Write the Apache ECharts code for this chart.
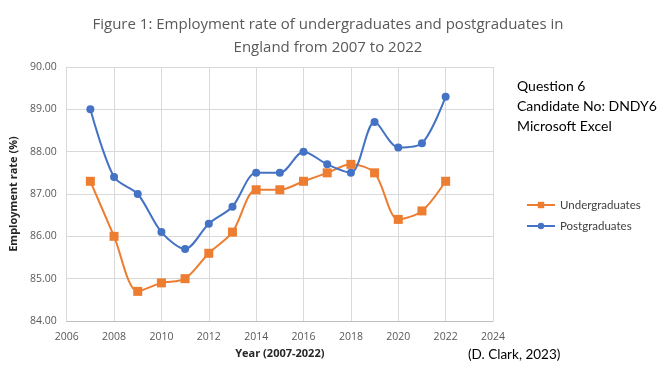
<!DOCTYPE html>
<html><head><meta charset="utf-8">
<script src="https://cdn.jsdelivr.net/npm/echarts@6/dist/echarts.min.js"></script>
<style>html,body{margin:0;padding:0;background:#fff}#c{width:659px;height:369px}</style>
</head><body><div id="c"></div>
<script>
const years = [2007,2008,2009,2010,2011,2012,2013,2014,2015,2016,2017,2018,2019,2020,2021,2022];
const undergraduates = [87.3,86.0,84.7,84.9,85.0,85.6,86.1,87.1,87.1,87.3,87.5,87.7,87.5,86.4,86.6,87.3];
const postgraduates = [89.0,87.4,87.0,86.1,85.7,86.3,86.7,87.5,87.5,88.0,87.7,87.5,88.7,88.1,88.2,89.3];
const titleText = 'Figure 1: Employment rate of undergraduates and postgraduates in\nEngland from 2007 to 2022';
const font = '"Open Sans", Lato, sans-serif';
const font2 = 'Lato, "Open Sans", sans-serif';
const chart = echarts.init(document.getElementById('c'));
chart.setOption({
  animation:false,
  title:{text:titleText,left:323,top:8,textAlign:'center',
    textStyle:{fontFamily:font,fontSize:15,fontWeight:'normal',color:'#595959',lineHeight:23}},
  grid:{left:66,right:166,top:67,bottom:48},
  legend:{orient:'vertical',left:521,top:194,itemGap:9,itemWidth:28,itemHeight:8,
    textStyle:{fontFamily:font2,fontSize:11.5,color:'#404040'},
    data:['Undergraduates','Postgraduates']},
  xAxis:{type:'value',min:2006,max:2024,interval:2,name:'Year (2007-2022)',nameLocation:'middle',nameGap:27,
    nameTextStyle:{fontFamily:font,fontSize:11,fontWeight:'bold',color:'#262626'},
    axisLine:{lineStyle:{color:'#bfbfbf'}},axisTick:{show:false},
    axisLabel:{fontFamily:font,fontSize:10.5,color:'#595959',margin:11,formatter:v=>String(v)},
    splitLine:{lineStyle:{color:'#d9d9d9'}}},
  yAxis:{type:'value',min:84,max:90,interval:1,name:'Employment rate (%)',nameLocation:'middle',nameGap:41,
    nameTextStyle:{fontFamily:font,fontSize:11,fontWeight:'bold',color:'#262626'},
    axisLine:{show:true,lineStyle:{color:'#d9d9d9'}},axisTick:{show:false},
    axisLabel:{fontFamily:font,fontSize:10.5,color:'#595959',formatter:v=>v.toFixed(2),margin:10},
    splitLine:{lineStyle:{color:'#d9d9d9'}}},
  graphic:[
    {type:'text',left:517,top:76,style:{text:'Question 6\nCandidate No: DNDY6\nMicrosoft Excel',fontFamily:font2,fontSize:14,lineHeight:20,fill:'#000'}},
    {type:'text',left:468,top:348,style:{text:'(D. Clark, 2023)',fontFamily:font2,fontSize:13.5,fill:'#000'}}
  ],
  series:[
    {name:'Undergraduates',type:'line',smooth:0.3,symbol:'rect',symbolSize:9,
      itemStyle:{color:'#ED7D31'},lineStyle:{width:2,color:'#ED7D31'},
      data:years.map((y,i)=>[y,undergraduates[i]])},
    {name:'Postgraduates',type:'line',smooth:0.3,symbol:'circle',symbolSize:8,
      itemStyle:{color:'#4472C4'},lineStyle:{width:2,color:'#4472C4'},
      data:years.map((y,i)=>[y,postgraduates[i]])}
  ]
});
</script></body></html>
